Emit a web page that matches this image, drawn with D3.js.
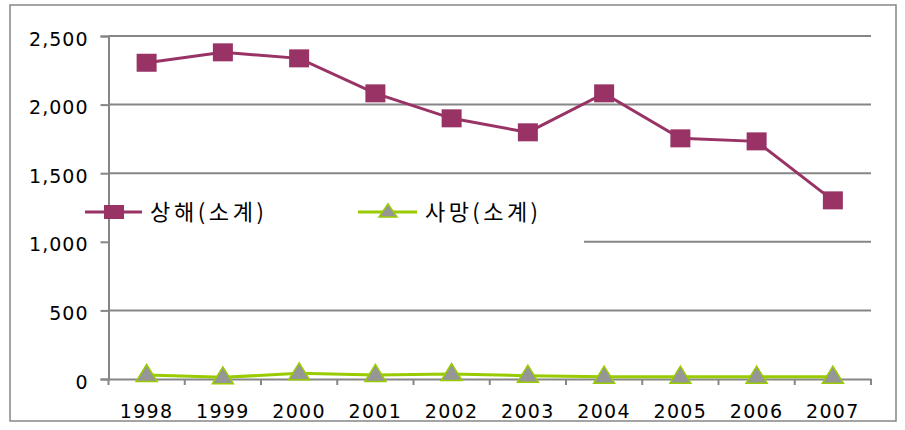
<!DOCTYPE html>
<html><head><meta charset="utf-8">
<script src="https://cdn.jsdelivr.net/npm/d3@7/dist/d3.min.js"></script>
<style>
html,body{margin:0;padding:0;background:#fff;}
svg{display:block;}
text{font-family:"DejaVu Sans",Verdana,sans-serif;fill:#000;}
.kr{font-family:"Noto Sans CJK KR","Noto Sans",sans-serif;}
</style></head>
<body>
<svg id="c" width="905" height="430"></svg>
<script>
const years = ["1998","1999","2000","2001","2002","2003","2004","2005","2006","2007"];
const injury = [2305,2381,2337,2082,1900,1798,2082,1754,1732,1302];
const death = [29,12,41,29,36,24,17,17,17,17];
const yTicks = [0,500,1000,1500,2000,2500];
const seriesNames = ["상해(소계)","사망(소계)"];

const svg = d3.select("#c");
const grey = "#868686";
const purple = "#993366";
const green = "#99CC00";

svg.append("rect").attr("x",10).attr("y",5).attr("width",886).attr("height",416)
  .attr("fill","#fff").attr("stroke",grey).attr("stroke-width",1.5);

const x = d3.scaleBand().domain(years).range([108.5,871]).padding(0);
const y = d3.scaleLinear().domain([0,2500]).range([379,36]);
const cx = d => x(d) + x.bandwidth()/2;

// gridlines
svg.append("g").selectAll("line").data(yTicks.filter(t=>t>0)).join("line")
  .attr("x1",108.5).attr("x2",871).attr("y1",d=>y(d)).attr("y2",d=>y(d))
  .attr("stroke",grey).attr("stroke-width",2);

// legend background (covers part of gridline)
svg.append("rect").attr("x",110).attr("y",185).attr("width",474).attr("height",60).attr("fill","#fff");

// y axis
const yAxis = d3.axisLeft(y).tickValues(yTicks).tickSize(8).tickPadding(12)
  .tickFormat(d3.format(","));
const gy = svg.append("g").attr("transform","translate(108.5,0)").call(yAxis);
gy.select(".domain").attr("stroke",grey).attr("stroke-width",2);
gy.selectAll(".tick line").attr("stroke",grey).attr("stroke-width",2);
gy.selectAll(".tick text").attr("font-size",19).attr("letter-spacing",1)
  .attr("dy","0.48em").attr("fill","#000").style("font-family","DejaVu Sans");

// x axis
const xAxis = d3.axisBottom(x).tickSize(0).tickPadding(26);
const gx = svg.append("g").attr("transform","translate(0,379)").call(xAxis);
gx.select(".domain").attr("stroke",grey).attr("stroke-width",2);
gx.selectAll(".tick text").attr("font-size",19).attr("letter-spacing",1.4).attr("fill","#000")
  .style("font-family","DejaVu Sans");
// tick marks at category boundaries
const bounds = years.map(d=>x(d)).concat([x.range()[1]]);
gx.append("g").selectAll("line").data(bounds).join("line")
  .attr("x1",d=>d).attr("x2",d=>d).attr("y1",0).attr("y2",6)
  .attr("stroke",grey).attr("stroke-width",2);

// lines
const line = d3.line().x((d,i)=>cx(years[i])).y(d=>y(d));
svg.append("path").datum(death).attr("d",line).attr("fill","none").attr("stroke",green).attr("stroke-width",3);
svg.append("path").datum(injury).attr("d",line).attr("fill","none").attr("stroke",purple).attr("stroke-width",3);

// markers
const tri = (w,h) => `M0,${-h*0.62}L${w/2},${h*0.38}L${-w/2},${h*0.38}Z`;
svg.append("g").selectAll("path").data(death).join("path")
  .attr("transform",(d,i)=>`translate(${cx(years[i])},${y(d)})`)
  .attr("d",tri(21,17)).attr("fill","#969696").attr("stroke",green).attr("stroke-width",1.5);
svg.append("g").selectAll("rect").data(injury).join("rect")
  .attr("x",(d,i)=>cx(years[i])-10).attr("y",d=>y(d)-9).attr("width",20).attr("height",18)
  .attr("fill",purple);

// legend
const lg = svg.append("g");
lg.append("line").attr("x1",85).attr("x2",142).attr("y1",212).attr("y2",212).attr("stroke",purple).attr("stroke-width",3);
lg.append("rect").attr("x",104).attr("y",205).attr("width",20).attr("height",14).attr("fill",purple);
lg.append("text").attr("class","kr").attr("x",150).attr("y",220).attr("font-size",22)
  .attr("textLength",114).attr("lengthAdjust","spacing").text(seriesNames[0]);
lg.append("line").attr("x1",358).attr("x2",417).attr("y1",212).attr("y2",212).attr("stroke",green).attr("stroke-width",3);
lg.append("path").attr("transform","translate(388,212)").attr("d",tri(18,13))
  .attr("fill","#969696").attr("stroke",green).attr("stroke-width",1.5);
lg.append("text").attr("class","kr").attr("x",425).attr("y",220).attr("font-size",22)
  .attr("textLength",113).attr("lengthAdjust","spacing").text(seriesNames[1]);
</script>
</body></html>
